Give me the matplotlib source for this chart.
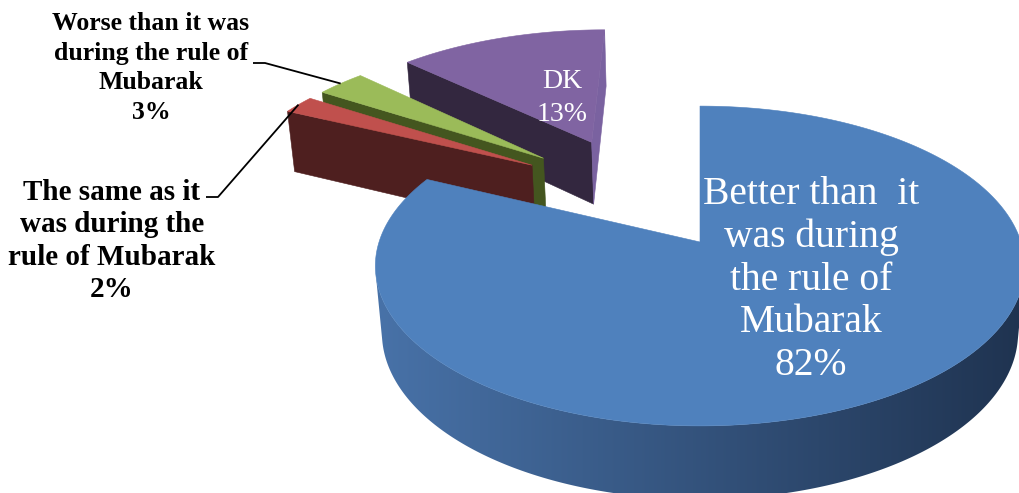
import numpy as np
import matplotlib.pyplot as plt
from matplotlib.patches import Polygon
from matplotlib.colors import to_rgb

# survey answers, drawn clockwise from 12 o'clock
labels = ["Better than  it\nwas during\nthe rule of\nMubarak",
          "The same as it\nwas during the\nrule of Mubarak",
          "Worse than it was\nduring the rule of\nMubarak",
          "DK"]
values = [82, 2, 3, 13]

top_colors = ["#4F81BD", "#C0504D", "#9BBB59", "#8064A2"]
wall_light = ["#4872A8", "#4E1F1F", "#44561F", "#33273F"]
wall_dark = ["#1F3350", "#4A1D1D", "#3D4D1C", "#2F243B"]
start_face = ["#1F3350", "#4E1F1F", "#44561F", "#33273F"]
end_face = ["#1F3350", "#7A2F2F", "#5C7030", "#7A62A0"]

# label placement (pixel space) and text style
text_pos = [(811, 280), (112, 241), (151, 68), (562, 98)]
text_col = ["white", "black", "black", "white"]
text_size = [28.5, 21, 18.5, 20]
text_weight = ["normal", "bold", "bold", "normal"]
text_spacing = [1.2, 1.24, 1.36, 1.42]
leader_elbow = [None, (206, 197), (253, 63), None]

explode = 0.4
height = 0.241

# simple perspective camera
F, L = 1868.0, 5.82
phi = np.arcsin(0.487)
cx, cy = 700.0, 242.0
cphi, sphi = np.cos(phi), np.sin(phi)

fracs = np.array(values) / np.sum(values)
start = 90 - 360 * np.concatenate([[0], np.cumsum(fracs)[:-1]])
end = start - 360 * fracs
mid = np.radians((start + end) / 2)
centers = np.c_[explode * np.cos(mid), explode * np.sin(mid)]
ox, oy = centers[0]
cam = np.array([ox, oy - L * cphi, L * sphi])


def project(x, y, z):
    x = np.asarray(x) - ox
    y = np.asarray(y) - oy
    depth = L + y * cphi - z * sphi
    up = y * sphi + z * cphi
    return cx + F * x / depth, cy - F * up / depth


def visible(p, n):
    return np.dot(np.asarray(p) - cam, n) < 0


fig = plt.figure(figsize=(10.19, 4.93), dpi=100)
ax = fig.add_axes([0, 0, 1, 1])
ax.axis("off")


def face(pts, color, z):
    poly = Polygon(pts, closed=True, facecolor=color, edgecolor=color,
                   linewidth=0.4, zorder=z)
    ax.add_patch(poly)
    return poly


def shaded_wall(pts, c1, c2, z):
    # one polygon for the curved side, filled with a left-to-right shade
    poly = Polygon(pts, closed=True, facecolor="none", edgecolor="none", zorder=z)
    ax.add_patch(poly)
    xs = np.array([p[0] for p in pts])
    ys = np.array([p[1] for p in pts])
    t = np.linspace(0, 1, 256)[:, None]
    grad = np.array(to_rgb(c1)) * (1 - t) + np.array(to_rgb(c2)) * t
    im = ax.imshow(grad[None, :, :], extent=(xs.min(), xs.max(), ys.max(), ys.min()),
                   aspect="auto", interpolation="bilinear", zorder=z)
    im.set_clip_path(poly)


# paint far slices first
order = np.argsort(-centers[:, 1])
for rank, i in enumerate(order):
    z0 = 2 + rank * 3
    ccx, ccy = centers[i]
    n = max(int(abs(start[i] - end[i]) * 3), 6)
    ang = np.radians(np.linspace(start[i], end[i], n))
    rx = ccx + np.cos(ang)
    ry = ccy + np.sin(ang)

    # outer curved wall, split into runs that face the camera
    seen = []
    for k in range(n - 1):
        am = (ang[k] + ang[k + 1]) / 2
        nrm = np.array([np.cos(am), np.sin(am), 0])
        p = [(rx[k] + rx[k + 1]) / 2, (ry[k] + ry[k + 1]) / 2, -height / 2]
        seen.append(visible(p, nrm))
    runs, cur = [], []
    for k, s in enumerate(seen):
        if s:
            cur = cur or [k]
            cur.append(k + 1)
        elif cur:
            runs.append(cur)
            cur = []
    if cur:
        runs.append(cur)
    for run in runs:
        idx = np.array(sorted(set(run)))
        u1, v1 = project(rx[idx], ry[idx], 0)
        u2, v2 = project(rx[idx], ry[idx], -height)
        pts = list(zip(u1, v1)) + list(zip(u2[::-1], v2[::-1]))
        shaded_wall(pts, wall_light[i], wall_dark[i], z0)

    # radial cut faces
    for edge_ang, nang, col in [(ang[0], ang[0] + np.pi / 2, start_face[i]),
                                (ang[-1], ang[-1] - np.pi / 2, end_face[i])]:
        ex, ey = ccx + np.cos(edge_ang), ccy + np.sin(edge_ang)
        nrm = np.array([np.cos(nang), np.sin(nang), 0])
        p = [(ccx + ex) / 2, (ccy + ey) / 2, -height / 2]
        if not visible(p, nrm):
            continue
        u, v = project([ccx, ex, ex, ccx], [ccy, ey, ey, ccy],
                       np.array([0, 0, -height, -height]))
        face(list(zip(u, v)), col, z0 + 1)

    # top face
    u, v = project(np.r_[ccx, rx], np.r_[ccy, ry], 0)
    face(list(zip(u, v)), top_colors[i], z0 + 2)

    # label text
    tx, ty = text_pos[i]
    ax.text(tx, ty, f"{labels[i]}\n{values[i]}%", ha="center", va="center",
            color=text_col[i], fontsize=text_size[i], fontweight=text_weight[i],
            family=["Liberation Serif", "DejaVu Serif"],
            linespacing=text_spacing[i], zorder=30)

    # leader line to the slice rim
    if leader_elbow[i] is not None:
        lx, ly = project(ccx + np.cos(mid[i]), ccy + np.sin(mid[i]), 0)
        ex0, ey0 = leader_elbow[i]
        ax.plot([ex0, ex0 + 12, lx], [ey0, ey0, ly], color="black",
                linewidth=1.3, zorder=25, solid_capstyle="butt")

ax.set_xlim(0, 1019)
ax.set_ylim(493, 0)
fig.savefig("out.png", dpi=100, facecolor="white")
